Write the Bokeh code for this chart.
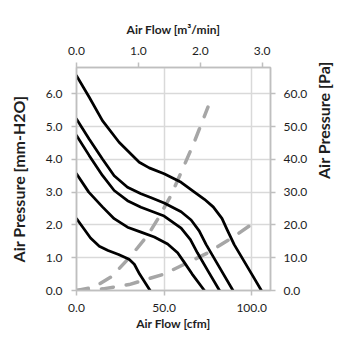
import math
from bokeh.plotting import figure
from bokeh.models import Range1d, LinearAxis, FixedTicker, PrintfTickFormatter
from bokeh.embed import file_html
from bokeh.resources import INLINE

# ---- data ----
# P-Q curves: airflow [cfm] vs static pressure [mm-H2O]
c1_x = [0, 7.2, 14.8, 24.3, 35.8, 41.5, 50, 59.7, 67.3, 73, 78, 83, 86, 90, 95, 100, 105.5]
c1_y = [6.55, 5.9, 5.18, 4.52, 3.91, 3.74, 3.56, 3.3, 3.0, 2.78, 2.55, 2.2, 1.85, 1.4, 0.95, 0.5, 0]

c2_x = [0, 7.2, 14.8, 21.5, 29.1, 36.8, 43, 50, 59.7, 65.4, 70, 74, 80, 89.3]
c2_y = [5.23, 4.62, 4.01, 3.5, 3.15, 2.95, 2.82, 2.67, 2.4, 2.15, 1.82, 1.4, 0.85, 0]

c3_x = [0, 7.2, 14.8, 21.5, 29.1, 36.8, 50, 59.7, 65, 69, 75, 81.6]
c3_y = [4.73, 4.12, 3.51, 3.05, 2.74, 2.54, 2.27, 1.9, 1.55, 1.15, 0.6, 0]

c4_x = [0, 7, 14.8, 21.5, 29.1, 36.8, 44.4, 52, 57.7, 61.6, 66, 73]
c4_y = [3.56, 3.0, 2.55, 2.19, 1.93, 1.78, 1.63, 1.42, 1.15, 0.85, 0.5, 0]

c5_x = [0, 4, 8, 13, 18, 24, 30, 33, 36, 42]
c5_y = [2.19, 1.9, 1.6, 1.35, 1.22, 1.1, 0.95, 0.8, 0.5, 0]

# system impedance curves (dashed)
s1_x = [0, 10, 20, 31, 40.6, 46.3, 53.9, 59.7, 67, 75]
s1_y = [0, 0.1, 0.42, 1.05, 1.68, 2.17, 2.9, 3.6, 4.5, 5.59]

s2_x = [0, 15, 30, 50, 75, 90, 103]
s2_y = [0, 0.05, 0.18, 0.5, 1.15, 1.65, 2.13]

# axes
x_ticks_cfm = [0, 50, 100]
x_ticks_m3 = [0, 1, 2, 3]
y_ticks_mm = [0, 1, 2, 3, 4, 5, 6]
y_ticks_pa = [0, 10, 20, 30, 40, 50, 60]
X_MAX = 110.7
Y_MAX = 6.8
CFM_PER_M3 = 35.315
PA_PER_MM = 10.0
title_left = "Air Pressure [mm-H2O]"
title_right = "Air Pressure [Pa]"

FONT = "Lato"
TXT = "#1e1e1e"
GRID = "#d9d9d9"
FRAME = "#bfbfbf"

p = figure(frame_width=194, frame_height=223,
           min_border_left=76, min_border_right=76, min_border_top=67, min_border_bottom=56,
           x_range=Range1d(0, X_MAX), y_range=Range1d(0, Y_MAX),
           output_backend="svg", toolbar_location=None,
           x_axis_location=None, y_axis_location=None)
p.outline_line_color = FRAME
p.outline_line_width = 1.5
p.background_fill_color = "white"
p.border_fill_color = "white"

p.extra_x_ranges = {"m3": Range1d(0, X_MAX / CFM_PER_M3)}
p.extra_y_ranges = {"pa": Range1d(0, Y_MAX * PA_PER_MM)}

fmt = PrintfTickFormatter(format="%.1f")


def style(ax, ticks, label, label_size, standoff, label_standoff):
    ax.ticker = FixedTicker(ticks=ticks)
    ax.formatter = fmt
    ax.axis_label = label
    ax.axis_label_text_font = FONT
    ax.axis_label_text_font_style = "bold"
    ax.axis_label_text_font_size = label_size
    ax.axis_label_text_color = TXT
    ax.axis_label_standoff = label_standoff
    ax.major_label_text_font = FONT
    ax.major_label_text_font_size = "12px"
    ax.major_label_text_color = TXT
    ax.major_label_standoff = standoff
    ax.axis_line_color = FRAME
    ax.axis_line_width = 1.5
    ax.major_tick_line_color = FRAME
    ax.major_tick_line_width = 1.5
    ax.major_tick_in = 0
    ax.major_tick_out = 5
    ax.minor_tick_line_color = None


def title_axis(ax, label, label_standoff):
    # axis that carries only a title (no ticks, no line)
    style(ax, [], label, "16px", 0, label_standoff)
    ax.axis_line_color = None
    ax.major_tick_line_color = None
    ax.major_tick_out = 0


bottom = LinearAxis()
style(bottom, x_ticks_cfm, "Air Flow [cfm]", "12px", 8, 1)
p.add_layout(bottom, "below")

top = LinearAxis(x_range_name="m3")
style(top, x_ticks_m3, "Air Flow [m³/min]", "12px", 8, 7)
p.add_layout(top, "above")

left = LinearAxis()
style(left, y_ticks_mm, None, "16px", 9, 17)
p.add_layout(left, "left")

left_t = LinearAxis(bounds=(-0.255, 6.535))
title_axis(left_t, title_left, 15)
p.add_layout(left_t, "left")

right = LinearAxis(y_range_name="pa")
style(right, y_ticks_pa, None, "16px", 8, 11)
p.add_layout(right, "right")

right_t = LinearAxis(y_range_name="pa", bounds=(-24.5, 43.4))
title_axis(right_t, title_right, 13)
try:
    right_t.axis_label_orientation = math.pi / 2
except Exception:
    pass
p.add_layout(right_t, "right")

p.xgrid.ticker = FixedTicker(ticks=x_ticks_cfm)
p.ygrid.ticker = FixedTicker(ticks=y_ticks_mm)
for g in (p.xgrid, p.ygrid):
    g.grid_line_color = GRID
    g.grid_line_width = 1.5

for xs, ys in [(s1_x, s1_y), (s2_x, s2_y)]:
    p.line(xs, ys, line_color="#a6a6a6", line_width=3.5, line_dash="12 13",
           line_cap="round", line_join="round")

for xs, ys in [(c1_x, c1_y), (c2_x, c2_y), (c3_x, c3_y), (c4_x, c4_y), (c5_x, c5_y)]:
    p.line(xs, ys, line_color="black", line_width=2.75, line_join="round", line_cap="round")

open("out.html", "w").write(file_html(p, INLINE))
